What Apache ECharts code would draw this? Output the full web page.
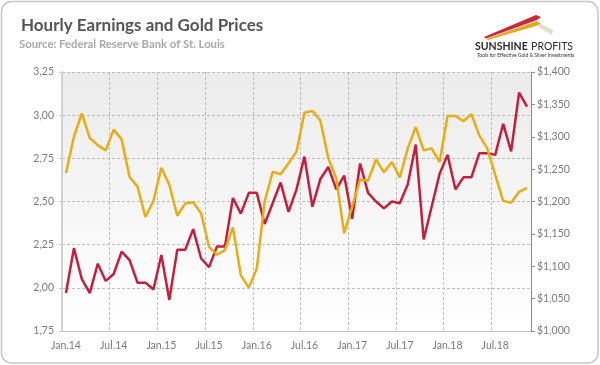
<!DOCTYPE html>
<html>
<head>
<meta charset="utf-8">
<script src="https://cdn.jsdelivr.net/npm/echarts@6/dist/echarts.min.js"></script>
<style>
html,body{margin:0;padding:0;background:#fff;}
#chart{width:600px;height:365px;}
</style>
</head>
<body>
<div id="chart"></div>
<script>
var categories = [
 'Jan.14','Feb.14','Mar.14','Apr.14','May.14','Jun.14','Jul.14','Aug.14','Sep.14','Oct.14','Nov.14','Dec.14',
 'Jan.15','Feb.15','Mar.15','Apr.15','May.15','Jun.15','Jul.15','Aug.15','Sep.15','Oct.15','Nov.15','Dec.15',
 'Jan.16','Feb.16','Mar.16','Apr.16','May.16','Jun.16','Jul.16','Aug.16','Sep.16','Oct.16','Nov.16','Dec.16',
 'Jan.17','Feb.17','Mar.17','Apr.17','May.17','Jun.17','Jul.17','Aug.17','Sep.17','Oct.17','Nov.17','Dec.17',
 'Jan.18','Feb.18','Mar.18','Apr.18','May.18','Jun.18','Jul.18','Aug.18','Sep.18','Oct.18','Nov.18'
];
var hourlyEarnings = [
 1.97,2.23,2.05,1.97,2.14,2.04,2.08,2.21,2.16,2.03,2.03,1.99,
 2.19,1.93,2.22,2.22,2.34,2.17,2.12,2.24,2.24,2.52,2.43,2.55,
 2.55,2.37,2.49,2.61,2.44,2.57,2.76,2.47,2.63,2.70,2.57,2.65,
 2.40,2.72,2.55,2.50,2.46,2.50,2.49,2.60,2.83,2.28,2.47,2.66,
 2.77,2.57,2.64,2.64,2.78,2.78,2.77,2.95,2.79,3.13,3.05
];
var goldPrices = [
 1244,1300,1336,1298,1287,1279,1311,1296,1238,1223,1176,1201,
 1252,1226,1178,1197,1199,1182,1130,1118,1125,1160,1086,1067,
 1096,1200,1246,1242,1259,1277,1337,1340,1325,1267,1236,1151,
 1192,1234,1232,1265,1245,1261,1237,1282,1315,1279,1282,1261,
 1332,1332,1324,1335,1302,1282,1241,1201,1198,1215,1221
];
var leftTicks = {min:1.75, max:3.25, step:0.25};
var rightTicks = {min:1000, max:1400, step:50};

var chart = echarts.init(document.getElementById('chart'), null, {renderer:'canvas'});
var FONT = 'Lato, "DejaVu Sans", sans-serif';
var labelColor = '#7a7a7a';

function money(v){
  var s = String(Math.round(v));
  return '$' + s.replace(/\B(?=(\d{3})+(?!\d))/g, ',');
}

var option = {
  backgroundColor:'#ffffff',
  animation:false,
  textStyle:{fontFamily:FONT},
  grid:{
    left:62, right:69, top:72, bottom:34,
    show:true, borderWidth:0,
    backgroundColor: new echarts.graphic.LinearGradient(0,0,0,1,[
      {offset:0,color:'#ebebeb'},{offset:0.75,color:'#fbfbfb'},{offset:1,color:'#ffffff'}
    ])
  },
  xAxis:{
    type:'category',
    data:categories,
    boundaryGap:true,
    axisLine:{show:true, lineStyle:{color:'#c4c4c4', width:1}},
    axisTick:{show:false, interval:5},
    axisLabel:{interval:5, color:labelColor, fontSize:10.5, fontFamily:FONT, margin:9},
    splitLine:{show:true, interval:5, lineStyle:{color:'#bdbdbd', type:[3,2], width:1}}
  },
  yAxis:[
    {
      type:'value', position:'left',
      min:leftTicks.min, max:leftTicks.max, interval:leftTicks.step,
      axisLine:{show:true, lineStyle:{color:'#d2d2d2', width:2}},
      axisTick:{show:true, length:3, lineStyle:{color:'#c8c8c8'}},
      axisLabel:{color:labelColor, fontSize:10.5, fontFamily:FONT, margin:8,
        formatter:function(v){return v.toFixed(2).replace('.',',');}},
      splitLine:{show:true, lineStyle:{color:'#bdbdbd', type:[3,2], width:1}}
    },
    {
      type:'value', position:'right',
      min:rightTicks.min, max:rightTicks.max, interval:rightTicks.step,
      axisLine:{show:true, lineStyle:{color:'#8a8a8a', width:1}},
      axisTick:{show:true, length:4, lineStyle:{color:'#8a8a8a'}},
      axisLabel:{color:labelColor, fontSize:10.5, fontFamily:FONT, margin:6, formatter:money},
      splitLine:{show:false}
    }
  ],
  series:[
    {
      name:'Hourly Earnings', type:'line', yAxisIndex:0, data:hourlyEarnings,
      symbol:'none', lineStyle:{color:'#c41e3a', width:2.5}, itemStyle:{color:'#c41e3a'}, z:3
    },
    {
      name:'Gold Prices', type:'line', yAxisIndex:1, data:goldPrices,
      symbol:'none', lineStyle:{color:'#e9ad12', width:2.5}, itemStyle:{color:'#e9ad12'}, z:4
    }
  ],
  graphic:[
    {type:'rect', silent:true, z:-1, shape:{x:1.5,y:1.5,width:596.5,height:361.5,r:10},
     style:{fill:'none', stroke:'#c6c6c6', lineWidth:1.5}},
    {type:'text', left:21, top:17, style:{text:'Hourly Earnings and Gold Prices', fill:'#555555',
      font:'bold 17px '+FONT}},
    {type:'text', left:19, top:39, style:{text:'Source: Federal Reserve Bank of St. Louis', fill:'#a8a8a8',
      font:'bold 11.3px '+FONT}},
    // logo swooshes
    {type:'polygon', silent:true, shape:{points:[[484,37],[536,15],[541,17],[537,20],[486,38.5]]},
     style:{fill:'#c8283c'}},
    {type:'polygon', silent:true, shape:{points:[[486,39],[537,21],[541,24],[536,26],[488,40]]},
     style:{fill:'#e3a822'}},
    {type:'polygon', silent:true, shape:{points:[[541,24],[553,30],[552,35],[538,27]]},
     style:{fill:'#e6ddc8'}},
    {type:'text', left:475, top:41, style:{rich:{
        a:{font:'bold 10.5px '+FONT, fill:'#2b2b2b'},
        b:{font:'10.5px '+FONT, fill:'#2b2b2b'}
      }, text:'{a|SUNSHINE} {b|PROFITS}'}},
    {type:'text', left:477, top:53, style:{text:'Tools for Effective Gold & Silver Investments', fill:'#333333',
      font:'5px '+FONT}}
  ]
};
chart.setOption(option);
</script>
</body>
</html>
